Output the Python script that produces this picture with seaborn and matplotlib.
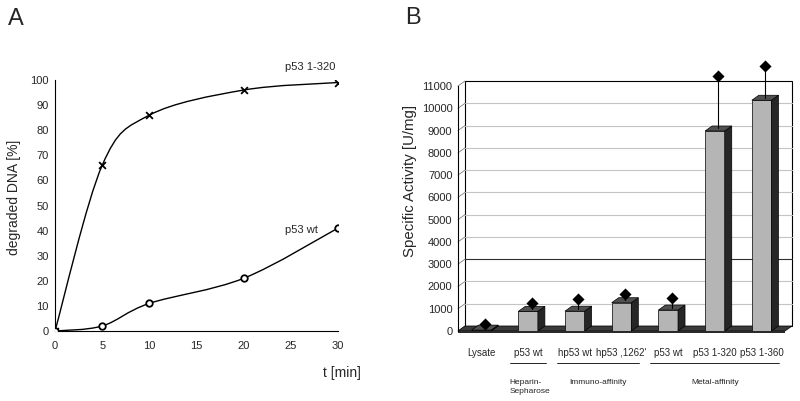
import matplotlib
matplotlib.use("Agg")
import matplotlib.pyplot as plt
from matplotlib.path import Path
from matplotlib.patches import PathPatch, Polygon, Rectangle
import matplotlib.transforms as mtrans
import numpy as np
import seaborn as sns

# ---- data, panel A: DNA degradation over time
time_min = [0, 5, 10, 20, 30]
deg_p53_1_320 = [0, 66, 86, 96, 99]
deg_p53_wt = [0, 2, 11, 21, 41]

# ---- data, panel B: specific activity per purification
bar_labels = ["Lysate", "p53 wt", "hp53 wt", "hp53 ,1262'", "p53 wt", "p53 1-320", "p53 1-360"]
activity = [40, 880, 890, 1270, 940, 8980, 10360]
activity_err = [190, 1140, 1320, 1550, 1350, 11350, 11780]
groups = ["Heparin-\nSepharose", "Immuno-affinity", "Metal-affinity"]
group_span = [(1, 1), (2, 3), (4, 6)]

sns.set_style("white")
plt.rcParams["font.family"] = ["Liberation Sans", "DejaVu Sans"]

fig = plt.figure(figsize=(8, 4.01), dpi=100)
W, H = 800, 401


def box(l, r, b, t):
    return [l / W, (H - b) / H, (r - l) / W, (b - t) / H]


def smooth_path(xs, ys):
    # catmull-rom style bezier, like the spreadsheet's smoothed line
    pts = np.column_stack([xs, ys]).astype(float)
    n = len(pts)
    verts = [pts[0]]
    codes = [Path.MOVETO]
    for i in range(n - 1):
        p0 = pts[max(i - 1, 0)]
        p1 = pts[i]
        p2 = pts[i + 1]
        p3 = pts[min(i + 2, n - 1)]
        verts += [p1 + (p2 - p0) / 6, p2 - (p3 - p1) / 6, p2]
        codes += [Path.CURVE4] * 3
    return Path(verts, codes)


# ================= Panel A =================
axA = fig.add_axes(box(55, 338, 331, 80))
for ys in (deg_p53_1_320, deg_p53_wt):
    axA.add_patch(PathPatch(smooth_path(time_min, ys), fill=False, lw=1.0,
                            edgecolor="black", zorder=2))
sns.scatterplot(x=time_min, y=deg_p53_1_320, marker="x", s=24, color="black",
                linewidth=1.3, ax=axA, zorder=3)
sns.scatterplot(x=time_min, y=deg_p53_wt, marker="o", s=22, facecolor="white",
                edgecolor="black", linewidth=1.3, ax=axA, zorder=3)
axA.set_xlim(0, 30)
axA.set_ylim(0, 100)
axA.set_xticks(range(0, 31, 5))
axA.set_yticks(range(0, 101, 10))
axA.tick_params(axis="y", direction="out", length=3, width=0.8, pad=1.5, labelsize=8)
axA.tick_params(axis="x", direction="inout", length=5, width=0.8, pad=5, labelsize=8)
for s in ("top", "right"):
    axA.spines[s].set_visible(False)
for s in ("left", "bottom"):
    axA.spines[s].set_linewidth(0.8)
    axA.spines[s].set_color("black")
axA.set_facecolor("white")
fig.text(285 / W, 1 - 67 / H, "p53 1-320", fontsize=8, va="center", ha="left")
fig.text(285 / W, 1 - 230 / H, "p53 wt", fontsize=8, va="center", ha="left")
fig.text(342 / W, 1 - 373 / H, "t [min]", fontsize=10, va="center", ha="center")
fig.text(14 / W, 1 - 197 / H, "degraded DNA [%]", fontsize=10, rotation=90,
         va="center", ha="center")
fig.text(8 / W, 1 - 19 / H, "A", fontsize=17, va="center", ha="left")

# ================= Panel B =================
axB = fig.add_axes(box(458, 785, 331, 86))
sns.barplot(x=list(range(len(activity))), y=activity, width=0.42, color="#b5b5b5",
            saturation=1, edgecolor="black", linewidth=0.5, ax=axB, zorder=3)
axB.set_xlim(-0.5, 6.5)
axB.set_ylim(0, 11000)

px_x = 327 / 7.0
px_y = 245 / 11000.0
dx = 7 / px_x
dy = 5 / px_y
x0, x1 = -0.5, 6.5

# back wall, gridlines, side wall
axB.add_patch(Rectangle((x0 + dx, dy), x1 - x0, 11000, facecolor="white",
                        edgecolor="black", lw=0.8, zorder=0.5, clip_on=False))
for v in range(1000, 11000, 1000):
    gc = "#303030" if v == 3000 else "#c4c4c4"
    axB.plot([x0 + dx, x1 + dx], [v + dy, v + dy], color=gc, lw=0.8, zorder=1,
             clip_on=False)
for v in range(0, 11001, 1000):
    axB.plot([x0, x0 + dx], [v, v + dy], color="#808080", lw=0.6, zorder=1,
             clip_on=False)

# floor
axB.add_patch(Polygon([(x0, 0), (x1, 0), (x1 + dx, dy), (x0 + dx, dy)],
                      closed=True, facecolor="#3a3a3a", edgecolor="black",
                      lw=0.5, zorder=1.5, clip_on=False))
axB.add_patch(Polygon([(x0, 0), (x1, 0), (x1, -2 / px_y), (x0, -2 / px_y)],
                      closed=True, facecolor="#2a2a2a", edgecolor="none",
                      zorder=1.5, clip_on=False))

# 3d faces of the bars
for p in axB.patches[:]:
    if not isinstance(p, Rectangle) or p.get_width() > 1:
        continue
    bx, bw, bh = p.get_x(), p.get_width(), p.get_height()
    axB.add_patch(Polygon([(bx + bw, 0), (bx + bw, bh), (bx + bw + dx, bh + dy),
                           (bx + bw + dx, dy)], closed=True, facecolor="#262626",
                          edgecolor="black", lw=0.5, zorder=3, clip_on=False))
    axB.add_patch(Polygon([(bx, bh), (bx + bw, bh), (bx + bw + dx, bh + dy),
                           (bx + dx, bh + dy)], closed=True, facecolor="#505050",
                          edgecolor="black", lw=0.5, zorder=3, clip_on=False))

# error lines with diamond caps
xpos = np.arange(len(activity)) + dx / 2
for xp, v, e in zip(xpos, activity, activity_err):
    axB.plot([xp, xp], [v + dy / 2, e + dy / 2], color="black", lw=0.8, zorder=4,
             clip_on=False)
sns.scatterplot(x=xpos, y=np.array(activity_err) + dy / 2, marker="D", s=38,
                color="black", linewidth=0, ax=axB, zorder=5, clip_on=False)

axB.set_yticks(range(0, 11001, 1000))
axB.set_xticks(range(len(bar_labels)))
axB.set_xticklabels(bar_labels)
axB.set_xticks(np.arange(0.5, 6.5, 1), minor=True)
axB.tick_params(axis="y", direction="out", length=3, width=0.8, pad=1, labelsize=8)
axB.tick_params(axis="x", which="major", length=0, pad=12, labelsize=7)
axB.tick_params(axis="x", which="minor", direction="out", length=3, width=0.6,
                color="#606060")
for s in ("top", "right", "bottom"):
    axB.spines[s].set_visible(False)
axB.spines["left"].set_linewidth(0.8)
axB.spines["left"].set_color("black")
axB.set_facecolor("none")
axB.patch.set_visible(False)

# group annotations
bt = mtrans.blended_transform_factory(axB.transData, fig.transFigure)
for name, (a, b) in zip(groups, group_span):
    axB.plot([a - 0.38, b + 0.38], [1 - 363 / H, 1 - 363 / H], color="black",
             lw=0.6, transform=bt, clip_on=False)
    if "\n" in name:
        axB.text(a - 0.39, 1 - 387 / H, name, transform=bt, fontsize=6,
                 ha="left", va="center", linespacing=1.3)
    else:
        axB.text((a + b) / 2, 1 - 382 / H, name, transform=bt, fontsize=6,
                 ha="center", va="center")

fig.text(410 / W, 1 - 181 / H, "Specific Activity [U/mg]", fontsize=10.8,
         rotation=90, va="center", ha="center")
fig.text(405 / W, 1 - 18 / H, "B", fontsize=17, va="center", ha="left")

fig.savefig("out.png", dpi=100, facecolor="white")
